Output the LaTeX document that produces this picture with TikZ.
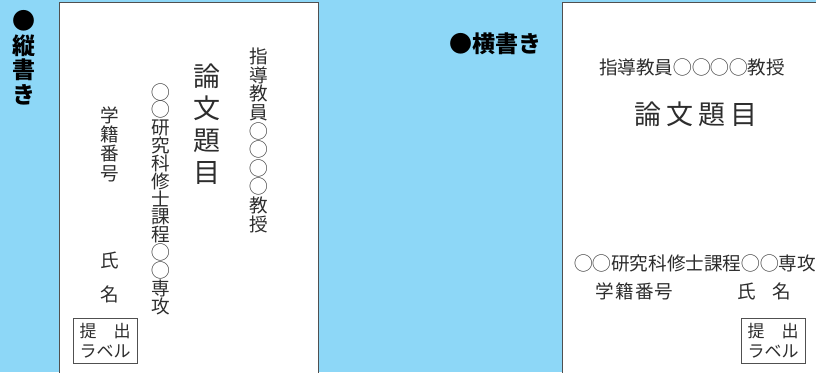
\documentclass[tikz,border=0pt]{standalone}
\usepackage{fontspec}
\newfontfamily\jp{Noto Sans CJK JP}
\definecolor{bgblue}{RGB}{141,215,247}
\definecolor{ink}{RGB}{45,45,45}
\definecolor{frame}{RGB}{80,80,80}

\begin{document}
\begin{tikzpicture}[
		x=1pt,y=-1pt,every node/.style={inner sep=0pt,text=ink},
		head/.style={font={\jp\bfseries\fontsize{23pt}{23pt}\selectfont},text=black},
		txt/.style={font={\jp\fontsize{18.6pt}{18.6pt}\selectfont}},
		ttl/.style={font={\jp\fontsize{27pt}{27pt}\selectfont}},
		lbl/.style={draw=frame,line width=0.8pt,minimum width=64pt,minimum height=45pt,
			align=center,font={\jp\fontsize{17pt}{20.5pt}\selectfont}},
		page/.style={fill=white,draw=frame,line width=0.8pt}
	]
	\useasboundingbox (0,0) rectangle (816,372);
	\clip (0,0) rectangle (816,372);
	\fill[bgblue] (0,0) rectangle (816,372);

	%the two sheets
	\draw[page] (59,2) rectangle (318,380);
	\draw[page] (562,2) rectangle (830,380);

	%vertical writing
		\foreach \c [count=\i from 0] in {●,縦,書,き}
			\node[head] (tateH\i) at (24, 21+\i*24.5) {\c};
		\foreach \c [count=\i from 0] in {指,導,教,員,◯,◯,◯,◯,教,授}
			\node[txt] (tateShido\i) at (259, 56.7+\i*18.6) {\c};
		\foreach \c [count=\i from 0] in {論,文,題,目}
			\node[ttl] (tateTitle\i) at (207, 76+\i*32.4) {\c};
		\foreach \c [count=\i from 0] in {◯,◯,研,究,科,修,士,課,程,◯,◯,専,攻}
			\node[txt] (tateKa\i) at (161, 92+\i*17.85) {\c};
		\foreach \c [count=\i from 0] in {学,籍,番,号}
			\node[txt] (tateNo\i) at (110, 115+\i*19.5) {\c};
		\foreach \c/\y in {0/260.5, 1/294}
			\node[txt] (tateName\c) at (110, \y) {\ifnum\c=0 氏\else 名\fi};
		\node[lbl] (tateLabel) at (105, 340.5) {提　出\\ラベル};

	%horizontal writing
		\node[head] (yokoH) at (495, 44) {●横書き};
		\node[txt] (yokoShido) at (692, 67) {指導教員◯◯◯◯教授};
		\node[ttl] (yokoTitle) at (696, 114) {論\hspace{5pt}文\hspace{5pt}題\hspace{5pt}目};
		\node[txt] (yokoKa) at (695, 263.5) {◯◯研究科修士課程◯◯専攻};
		\node[txt] (yokoNo) at (634.5, 291.5) {学\hspace{1.2pt}籍\hspace{1.2pt}番\hspace{1.2pt}号};
		\node[txt] (yokoName) at (764.5, 291.5) {氏\hspace{16pt}名};
		\node[lbl] (yokoLabel) at (773, 340.5) {提　出\\ラベル};
\end{tikzpicture}
\end{document}
